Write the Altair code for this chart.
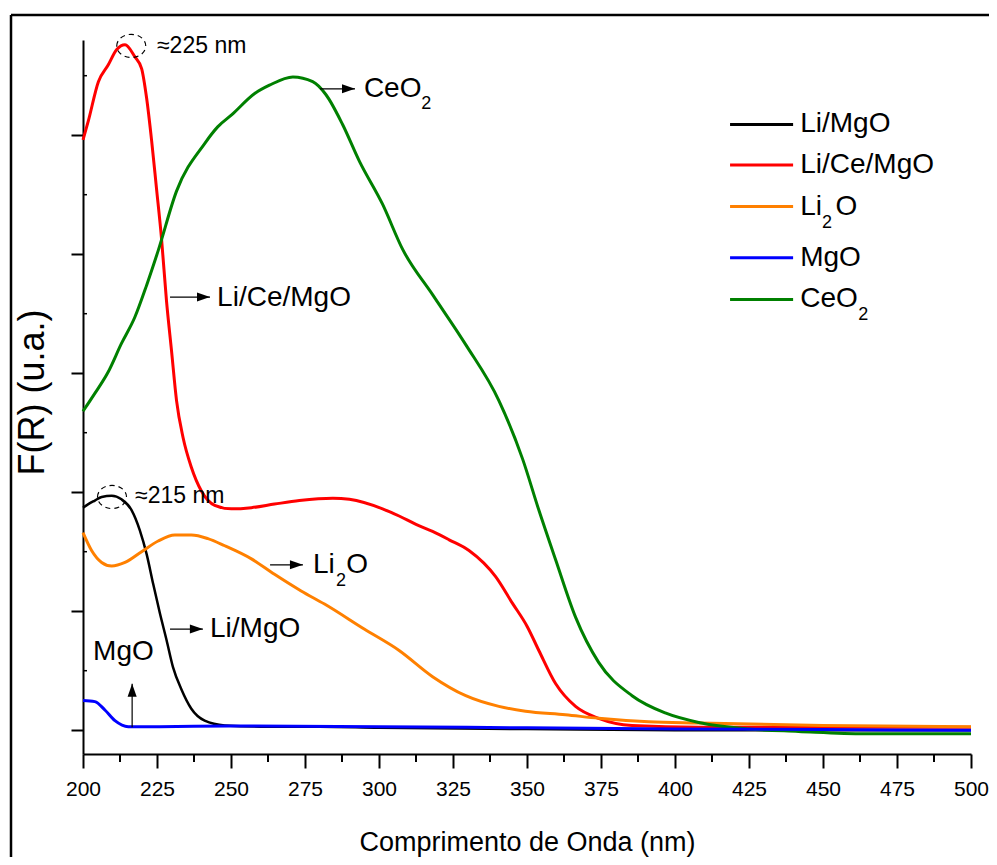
import altair as alt
import pandas as pd

FONT = "Liberation Sans"

# ---------------- data (wavelength nm, F(R) a.u.) ----------------
wl_limgo = [200, 201.8, 204, 206.3, 209.7, 213, 216.4, 219.2, 221.5, 223.7, 226, 228.2,
            230.4, 233.3, 236.6, 241.1, 247.9, 260, 280, 300, 350, 400, 450, 500]
fr_limgo = [1.87, 1.90, 1.93, 1.96, 1.97, 1.94, 1.85, 1.68, 1.48, 1.23, 0.98, 0.76,
            0.53, 0.34, 0.18, 0.08, 0.04, 0.03, 0.03, 0.02, 0.01, 0.0, 0.0, 0.0]

wl_licemgo = [200, 201.8, 205.2, 208.5, 211.4, 214.2, 217.5, 219.8, 221.5, 223.2, 224.8,
              226.5, 228.2, 229.9, 231.6, 233.8, 236.6, 240, 244.5, 250.1, 256.9, 264.7,
              273.1, 284.4, 290, 301.2, 306.8, 312.5, 318.1, 323.7, 330.4, 339.4, 345,
              350.1, 354, 359.7, 366.4, 374.2, 385.5, 408, 450, 500]
fr_licemgo = [4.96, 5.12, 5.45, 5.59, 5.72, 5.76, 5.66, 5.56, 5.31, 4.95, 4.56,
              4.14, 3.61, 3.19, 2.77, 2.46, 2.21, 2.01, 1.89, 1.86, 1.87, 1.90,
              1.93, 1.95, 1.94, 1.86, 1.80, 1.73, 1.67, 1.60, 1.51, 1.29, 1.07,
              0.87, 0.67, 0.39, 0.20, 0.10, 0.04, 0.025, 0.025, 0.025]

wl_li2o = [200, 202.9, 206.3, 209.7, 214.2, 219.8, 225.4, 231, 236.6, 242.2, 247.9, 256.9,
           264.7, 273.7, 281.6, 295, 306.8, 318.1, 329.3, 340.5, 349.5, 363, 374.2, 391.1,
           408, 450, 500]
fr_li2o = [1.66, 1.51, 1.41, 1.38, 1.41, 1.50, 1.59, 1.64, 1.64, 1.61, 1.55, 1.44,
           1.31, 1.17, 1.06, 0.85, 0.67, 0.45, 0.29, 0.20, 0.16, 0.13, 0.10, 0.07,
           0.06, 0.04, 0.03]

wl_mgo = [200, 204, 207.4, 210.8, 215.3, 225, 250, 300, 350, 400, 450, 500]
fr_mgo = [0.25, 0.24, 0.17, 0.08, 0.03, 0.03, 0.035, 0.03, 0.02, 0.01, 0.005, 0.0]

wl_ceo2 = [200, 204, 208.5, 213, 217.5, 221.5, 225.4, 231.6, 241.1, 245.5, 250.2, 258,
           263, 270.9, 277.6, 282.1, 287.7, 293.4, 301.2, 308, 318.1, 329.3, 340.5, 348.5,
           354, 359.7, 366.4, 374.2, 385.5, 396.7, 408, 424.8, 441.7, 464.1, 500]
fr_ceo2 = [2.68, 2.83, 3.01, 3.25, 3.47, 3.74, 4.03, 4.53, 4.93, 5.07, 5.17, 5.35,
           5.42, 5.49, 5.45, 5.34, 5.09, 4.78, 4.42, 4.04, 3.66, 3.24, 2.77, 2.28,
           1.85, 1.43, 0.95, 0.57, 0.29, 0.145, 0.065, 0.01, -0.01, -0.03, -0.03]

x_ticks = [200, 225, 250, 275, 300, 325, 350, 375, 400, 425, 450, 475, 500]
x_minor = [212.5, 237.5, 262.5, 287.5, 312.5, 337.5, 362.5, 387.5, 412.5, 437.5, 462.5, 487.5]
y_ticks = [0, 1, 2, 3, 4, 5]
y_minor = [0.5, 1.5, 2.5, 3.5, 4.5, 5.5]

# legend entries
leg_names = ["Li/MgO", "Li/Ce/MgO", "Li2O", "MgO", "CeO2"]
leg_colors = ["#000000", "#ff0000", "#ff8000", "#0000ff", "#008000"]
leg_y = [5.09, 4.75, 4.40, 3.97, 3.62]
leg_x1, leg_x2 = 418.6, 439.9

# annotation texts (anchor = left edge, vertical middle)
big_text = ["Li/Ce/MgO", "Li/MgO", "MgO", "CeO", "Li", "O",
            "Li/MgO", "Li/Ce/MgO", "Li", "O", "MgO", "CeO"]
big_x = [245.3, 242.9, 203.4, 294.9, 277.7, 288.9,
         442.3, 442.3, 442.3, 454.2, 442.3, 442.3]
big_y = [3.63, 0.85, 0.66, 5.39, 1.39, 1.39,
         5.09, 4.75, 4.40, 4.40, 3.97, 3.62]
sub_text = ["2", "2", "2", "2"]
sub_x = [314.3, 285.5, 449.7, 461.9]
sub_y = [5.26, 1.25, 4.26, 3.49]
small_text = ["≈225 nm", "≈215 nm"]
small_x = [225.0, 217.6]
small_y = [5.75, 1.97]
circ_x = [216.3, 209.8]
circ_y = [5.75, 1.96]

# arrows
harrow_x1 = [280.1, 229.4, 263.2, 229.4]
harrow_x2 = [291.9, 242.9, 274.3, 240.5]
harrow_y = [5.39, 3.64, 1.39, 0.85]
varrow_x = [216.6]
varrow_y1 = [0.025]
varrow_y2 = [0.39]

# ---------------- chart ----------------
xs = alt.Scale(domain=[200, 500], nice=False, zero=False)
ys = alt.Scale(domain=[-0.2, 5.8], nice=False, zero=False)

x_axis = alt.Axis(values=x_ticks, title="Comprimento de Onda (nm)", format="d", grid=False,
                  domainColor="black", domainWidth=2, tickColor="black", tickWidth=2,
                  tickSize=14, labelFont=FONT, labelFontSize=21, labelColor="black",
                  labelPadding=10, labelFlush=False, titleFont=FONT, titleFontSize=27,
                  titleFontWeight="normal", titleColor="black", titleY=96,
                  titleBaseline="alphabetic")
y_axis = alt.Axis(values=y_ticks, labels=False, title="F(R) (u.a.)", grid=False,
                  domainColor="black", domainWidth=2, tickColor="black", tickWidth=2,
                  tickSize=12, titleFont=FONT, titleFontSize=36, titleFontWeight="normal",
                  titleColor="black", titleX=-40, titleY=352, titleBaseline="alphabetic",
                  titleAlign="center")


def X(field):
    return alt.X(field, type="quantitative", scale=xs, axis=x_axis)


def Y(field):
    return alt.Y(field, type="quantitative", scale=ys, axis=y_axis)


one = pd.DataFrame({"a": [0]})
# outer figure frame (top and left edges; right/bottom lie outside the window)
frame_top = alt.Chart(one).mark_rule(color="black", strokeWidth=2.5).encode(
    x=alt.value(-72), x2=alt.value(906), y=alt.value(-25))
frame_left = alt.Chart(one).mark_rule(color="black", strokeWidth=2.5).encode(
    x=alt.value(-72), y=alt.value(-25), y2=alt.value(817))

series = [
    ("Li/MgO", wl_limgo, fr_limgo, "#000000", 2.5),
    ("Li/Ce/MgO", wl_licemgo, fr_licemgo, "#ff0000", 3),
    ("Li2O", wl_li2o, fr_li2o, "#ff8000", 3),
    ("CeO2", wl_ceo2, fr_ceo2, "#008000", 3),
    ("MgO", wl_mgo, fr_mgo, "#0000ff", 3),
]

layers = [frame_top, frame_left]
for name, wl, fr, col, w in series:
    df = pd.DataFrame({"wl": wl, "fr": fr})
    layers.append(
        alt.Chart(df).mark_line(color=col, strokeWidth=w, interpolate="monotone").encode(
            x=X("wl"), y=Y("fr"))
    )

# minor ticks
layers.append(
    alt.Chart(pd.DataFrame({"v": x_minor})).mark_rule(color="black", strokeWidth=2).encode(
        x=X("v"), y=alt.value(714), y2=alt.value(722))
)
layers.append(
    alt.Chart(pd.DataFrame({"v": y_minor})).mark_rule(color="black", strokeWidth=1.5).encode(
        y=Y("v"), x=alt.value(0), x2=alt.value(4))
)

# legend lines
leg_df = pd.DataFrame({"name": leg_names, "col": leg_colors, "y": leg_y,
                       "x1": [leg_x1] * 5, "x2": [leg_x2] * 5})
layers.append(
    alt.Chart(leg_df).mark_rule(strokeWidth=3).encode(
        x=X("x1"), x2="x2:Q", y=Y("y"), color=alt.Color("col:N", scale=None))
)


def text_layer(t, x, y, size):
    df = pd.DataFrame({"t": t, "x": x, "y": y})
    return alt.Chart(df).mark_text(font=FONT, fontSize=size, align="left",
                                   baseline="middle", color="black").encode(
        x=X("x"), y=Y("y"), text="t:N")


layers.append(text_layer(big_text, big_x, big_y, 28))
layers.append(text_layer(sub_text, sub_x, sub_y, 18))
layers.append(text_layer(small_text, small_x, small_y, 23))

# dashed ellipses
layers.append(
    alt.Chart(pd.DataFrame({"x": circ_x, "y": circ_y})).mark_point(
        shape="M-1,0A1,0.8,0,1,1,1,0A1,0.8,0,1,1,-1,0Z", size=841, filled=False,
        stroke="black", strokeWidth=1.2, strokeDash=[5, 4], opacity=1
    ).encode(x=X("x"), y=Y("y"))
)

# arrows
ha = pd.DataFrame({"x1": harrow_x1, "x2": harrow_x2, "y": harrow_y})
layers.append(
    alt.Chart(ha).mark_rule(color="black", strokeWidth=1.2).encode(
        x=X("x1"), x2="x2:Q", y=Y("y"))
)
layers.append(
    alt.Chart(ha).mark_point(shape="M-1,-0.35L0,0L-1,0.35Z", size=676, filled=True,
                             color="black", opacity=1, strokeWidth=0).encode(
        x=X("x2"), y=Y("y"))
)
va = pd.DataFrame({"x": varrow_x, "y1": varrow_y1, "y2": varrow_y2})
layers.append(
    alt.Chart(va).mark_rule(color="black", strokeWidth=1.2).encode(
        x=X("x"), y=Y("y1"), y2="y2:Q")
)
layers.append(
    alt.Chart(va).mark_point(shape="M-0.35,1L0,0L0.35,1Z", size=676, filled=True,
                             color="black", opacity=1, strokeWidth=0).encode(
        x=X("x"), y=Y("y2"))
)

chart = alt.layer(*layers).properties(
    width=888, height=714,
    autosize=alt.AutoSizeParams(type="none"),
    padding={"left": 75, "top": 32, "right": 18, "bottom": 103},
    background="white",
).configure_view(stroke="transparent")

chart.save("out.html", embed_options={"renderer": "svg", "actions": False})
